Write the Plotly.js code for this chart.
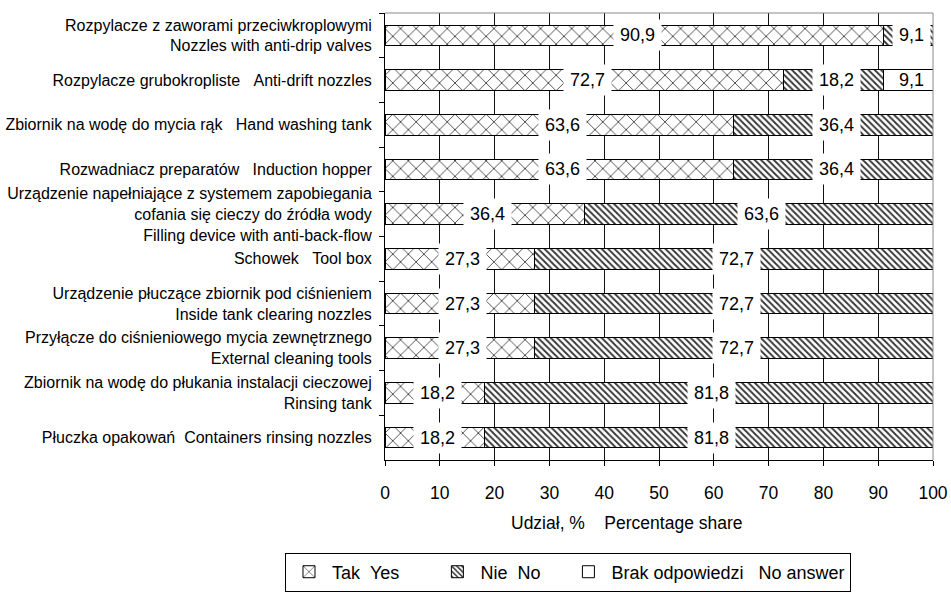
<!DOCTYPE html>
<html><head><meta charset="utf-8">
<script src="https://cdn.plot.ly/plotly-3.0.1.min.js"></script>
<style>html,body{margin:0;padding:0;background:#fff;overflow:hidden;}#chart{width:951px;height:604px;}</style>
</head><body><div id="chart"></div>
<script>
const categories = [
  'Rozpylacze z zaworami przeciwkroplowymi<br>Nozzles with anti-drip valves',
  'Rozpylacze grubokropliste\u00a0\u00a0\u00a0Anti-drift nozzles',
  'Zbiornik na wodę do mycia rąk\u00a0\u00a0\u00a0Hand washing tank',
  'Rozwadniacz preparatów\u00a0\u00a0\u00a0Induction hopper',
  'Urządzenie napełniające z systemem zapobiegania<br>cofania się cieczy do źródła wody<br>Filling device with anti-back-flow',
  'Schowek\u00a0\u00a0\u00a0Tool box',
  'Urządzenie płuczące zbiornik pod ciśnieniem<br>Inside tank clearing nozzles',
  'Przyłącze do ciśnieniowego mycia zewnętrznego<br>External cleaning tools',
  'Zbiornik na wodę do płukania instalacji cieczowej<br>Rinsing tank',
  'Płuczka opakowań\u00a0\u00a0Containers rinsing nozzles'
];
const tak  = [90.9, 72.7, 63.6, 63.6, 36.4, 27.3, 27.3, 27.3, 18.2, 18.2];
const nie  = [9.1, 18.2, 36.4, 36.4, 63.6, 72.7, 72.7, 72.7, 81.8, 81.8];
const brak = [0, 9.1, 0, 0, 0, 0, 0, 0, 0, 0];
const seriesNames = ['Tak\u00a0\u00a0Yes', 'Nie\u00a0\u00a0No', 'Brak odpowiedzi\u00a0\u00a0\u00a0No answer'];
const xTickVals = [0, 10, 20, 30, 40, 50, 60, 70, 80, 90, 100];
const xTitle = 'Udział, %\u00a0\u00a0\u00a0\u00a0Percentage share';

const FONT = '"Liberation Sans", Arial, sans-serif';
const series = [tak, nie, brak];
const patterns = [
  {shape: 'x', size: 11, solidity: 0.16, fgcolor: '#444', bgcolor: '#fff', fillmode: 'replace'},
  {shape: '\\', size: 4.5, solidity: 0.4, fgcolor: '#333', bgcolor: '#fff', fillmode: 'replace'},
  null
];
// legend spacing padding (number of trailing non-breaking spaces per entry)
const legendPad = [6, 4, 0];

const traces = series.map((vals, i) => {
  const m = {color: '#fff', line: {color: '#000', width: 1}};
  if (patterns[i]) m.pattern = patterns[i];
  return {
    type: 'bar', orientation: 'h', name: seriesNames[i] + '\u00a0'.repeat(legendPad[i]),
    y: categories, x: vals.map(v => v === 0 ? null : v),
    marker: m, hoverinfo: 'skip'
  };
});

const fmt = v => v.toFixed(1).replace('.', ',');
const annotations = [];
categories.forEach((c, r) => {
  let base = 0;
  series.forEach((vals, i) => {
    const v = vals[r];
    if (v > 0) {
      const txt = fmt(v);
      const tw = txt.length * 10 - 5;
      annotations.push({
        x: base + v / 2, y: c, xref: 'x', yref: 'y',
        text: txt, showarrow: false,
        font: {family: FONT, size: 18, color: '#000'},
        bgcolor: i === 2 ? 'rgba(0,0,0,0)' : '#fff',
        borderpad: 0, height: 30, width: tw + 12,
        align: 'center', xanchor: 'center', yanchor: 'middle', xshift: 3
      });
    }
    base += v;
  });
});
// x-axis title as a paper annotation (offset left, as in the reference)
annotations.push({
  xref: 'paper', yref: 'paper', x: 0.4407, y: -0.1416, xanchor: 'center', yanchor: 'middle',
  text: xTitle, showarrow: false, font: {family: FONT, size: 17.5, color: '#000'}
});

const layout = {
  width: 951, height: 604,
  margin: {l: 385, r: 18, t: 13, b: 132},
  paper_bgcolor: '#fff', plot_bgcolor: '#fff',
  font: {family: FONT, color: '#000'},
  barmode: 'stack', bargap: 0.54,
  showlegend: true,
  legend: {
    orientation: 'h', x: -0.1825, xanchor: 'left', y: -0.207, yanchor: 'top',
    bordercolor: '#000', borderwidth: 1, bgcolor: '#fff',
    font: {family: FONT, size: 18, color: '#000'},
    itemwidth: 36, traceorder: 'normal'
  },
  xaxis: {
    range: [0, 100], tickvals: xTickVals, ticktext: xTickVals.map(String),
    showgrid: true, gridcolor: '#111', gridwidth: 1,
    showline: true, linecolor: '#000', linewidth: 1,
    ticks: 'outside', ticklen: 5, tickcolor: '#000',
    tickfont: {family: FONT, size: 17.5, color: '#000'},
    ticklabelstandoff: 12,
    zeroline: false, fixedrange: true
  },
  yaxis: {
    type: 'category', categoryorder: 'array', categoryarray: categories,
    autorange: 'reversed',
    showline: true, linecolor: '#000', linewidth: 1,
    ticks: 'outside', ticklen: 5, tickcolor: '#000', tickson: 'boundaries',
    tickfont: {family: FONT, size: 16, color: '#000'},
    showgrid: false, zeroline: false, fixedrange: true, ticklabelstandoff: 9
  },
  shapes: [
    {type: 'line', xref: 'paper', yref: 'paper', x0: 0, x1: 1, y0: 1, y1: 1, line: {color: '#888', width: 1}, layer: 'above'},
    {type: 'line', xref: 'paper', yref: 'paper', x0: 1, x1: 1, y0: 0, y1: 1, line: {color: '#888', width: 1}, layer: 'above'}
  ],
  annotations: annotations
};

Plotly.newPlot('chart', traces, layout, {displayModeBar: false, staticPlot: true});
</script>
</body></html>
